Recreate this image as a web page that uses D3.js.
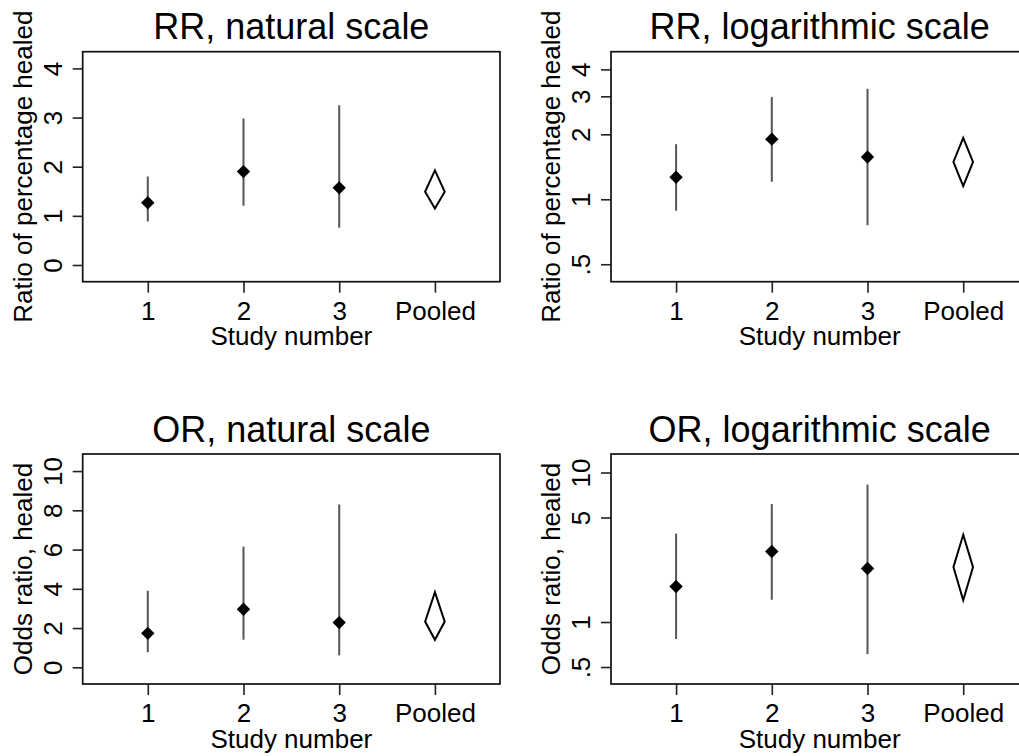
<!DOCTYPE html>
<html>
<head>
<meta charset="utf-8">
<script src="https://cdn.jsdelivr.net/npm/d3@7"></script>
<style>
  html, body { margin: 0; padding: 0; background: #fff; }
  svg { display: block; font-family: "Liberation Sans", Arial, Helvetica, sans-serif; }
</style>
</head>
<body>
<div id="chart"></div>
<script>
// categories along the x axis
const studies = ["1", "2", "3", "Pooled"];

// risk ratio per study: estimate, lower and upper limits
const rrEst = [1.265, 1.9, 1.57];
const rrLow = [0.885, 1.205, 0.758];
const rrHigh = [1.8, 2.98, 3.25];
const rrPooled = [1.49, 1.15, 1.925]; // est, low, high

// odds ratio per study
const orEst = [1.73, 2.96, 2.28];
const orLow = [0.77, 1.41, 0.61];
const orHigh = [3.9, 6.15, 8.3];
const orPooled = [2.33, 1.4, 3.83];

// y ticks and axis ranges
const rrNatTicks = [0, 1, 2, 3, 4];
const rrLogTicks = [0.5, 1, 2, 3, 4];
const orNatTicks = [0, 2, 4, 6, 8, 10];
const orLogTicks = [0.5, 1, 5, 10];
const rrNatDomain = [-0.34, 4.34];
const rrLogDomain = [0.415, 4.83];
const orNatDomain = [-0.85, 10.87];
const orLogDomain = [0.385, 13.3];
const xDomain = [0.32, 4.68];

const W = 1019, H = 756;
const svg = d3.select("#chart").append("svg")
  .attr("width", W).attr("height", H);

const panels = [
  { title: "RR, natural scale", ylab: "Ratio of percentage healed", left: 82.7, top: 51.7,
    log: false, ticks: rrNatTicks, domain: rrNatDomain, est: rrEst, low: rrLow, high: rrHigh, pooled: rrPooled },
  { title: "RR, logarithmic scale", ylab: "Ratio of percentage healed", left: 611, top: 51.7,
    log: true, ticks: rrLogTicks, domain: rrLogDomain, est: rrEst, low: rrLow, high: rrHigh, pooled: rrPooled },
  { title: "OR, natural scale", ylab: "Odds ratio, healed", left: 82.7, top: 454,
    log: false, ticks: orNatTicks, domain: orNatDomain, est: orEst, low: orLow, high: orHigh, pooled: orPooled },
  { title: "OR, logarithmic scale", ylab: "Odds ratio, healed", left: 611, top: 454,
    log: true, ticks: orLogTicks, domain: orLogDomain, est: orEst, low: orLow, high: orHigh, pooled: orPooled }
];

const pw = 417.3, ph = 230;
// Stata style: 0.5 is written ".5"
const fmt = (d) => (d > 0 && d < 1 ? String(d).replace(/^0/, "") : String(d));

panels.forEach((p) => {
  const g = svg.append("g").attr("transform", `translate(${p.left},${p.top})`);

  const x = d3.scaleLinear().domain(xDomain).range([0, pw]);
  const y = (p.log ? d3.scaleLog() : d3.scaleLinear()).domain(p.domain).range([ph, 0]);

  // title
  g.append("text")
    .attr("x", pw / 2).attr("y", -12.4)
    .attr("text-anchor", "middle")
    .attr("font-size", 36)
    .text(p.title);

  // y axis
  const ya = g.append("g")
    .call(d3.axisLeft(y).tickValues(p.ticks).tickFormat(fmt).tickSize(10).tickSizeOuter(0));
  ya.select(".domain").remove();
  ya.selectAll(".tick line").attr("stroke", "#222").attr("stroke-width", 1.6);
  ya.selectAll(".tick text")
    .attr("x", null).attr("dy", null)
    .attr("text-anchor", "middle")
    .attr("transform", "translate(-21,0) rotate(-90)")
    .attr("font-size", 26).attr("font-family", null).attr("fill", "#000");

  // x axis
  const xa = g.append("g").attr("transform", `translate(0,${ph})`)
    .call(d3.axisBottom(x).tickValues([1, 2, 3, 4]).tickFormat((d) => studies[d - 1]).tickSize(11).tickSizeOuter(0));
  xa.select(".domain").remove();
  xa.selectAll(".tick line").attr("stroke", "#222").attr("stroke-width", 1.6);
  xa.selectAll(".tick text")
    .attr("y", 38.3).attr("dy", null)
    .attr("font-size", 26).attr("font-family", null).attr("fill", "#000");

  // axis titles
  g.append("text")
    .attr("x", pw / 2).attr("y", ph + 63.5)
    .attr("text-anchor", "middle").attr("font-size", 26)
    .text("Study number");
  g.append("text")
    .attr("transform", `translate(-50.7,${ph / 2}) rotate(-90)`)
    .attr("text-anchor", "middle").attr("font-size", 26)
    .text(p.ylab);

  // box
  g.append("rect")
    .attr("width", pw).attr("height", ph)
    .attr("fill", "none").attr("stroke", "#111").attr("stroke-width", 1.7);

  // confidence intervals
  g.selectAll(".ci").data(p.est).join("line")
    .attr("x1", (d, i) => x(i + 1)).attr("x2", (d, i) => x(i + 1))
    .attr("y1", (d, i) => y(p.low[i])).attr("y2", (d, i) => y(p.high[i]))
    .attr("stroke", "#555").attr("stroke-width", 2);

  // point estimates
  const m = 6.7;
  g.selectAll(".pt").data(p.est).join("path")
    .attr("d", (d, i) => {
      const cx = x(i + 1), cy = y(d);
      return `M${cx},${cy - m}L${cx + m},${cy}L${cx},${cy + m}L${cx - m},${cy}Z`;
    })
    .attr("fill", "#000");

  // pooled diamond
  const px = x(4);
  const [pe, pl, ph2] = p.pooled;
  g.append("path")
    .attr("d", `M${px},${y(ph2)}L${px + 9.8},${y(pe)}L${px},${y(pl)}L${px - 9.8},${y(pe)}Z`)
    .attr("fill", "#fff").attr("stroke", "#000").attr("stroke-width", 2);
});
</script>
</body>
</html>
